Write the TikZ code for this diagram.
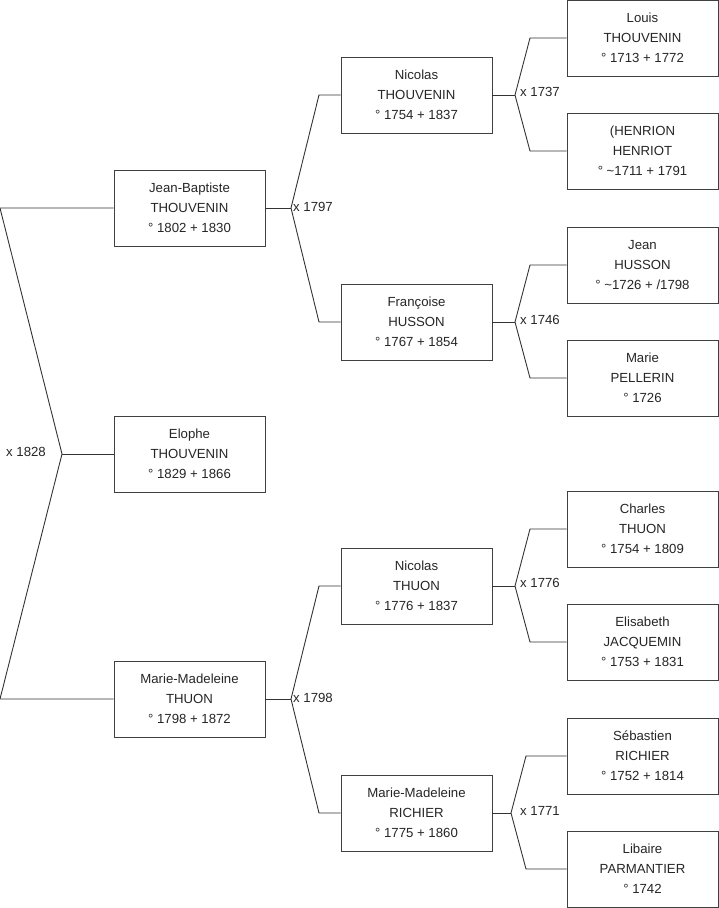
\documentclass[tikz,border=0pt]{standalone}
\usepackage{fontspec}
\setmainfont{Liberation Sans}
\begin{document}
\begin{tikzpicture}[x=1pt,y=-1pt,
  person/.style={draw=black!75,line width=0.9pt,fill=white,minimum width=151pt,minimum height=76pt,inner sep=0pt,align=center,font=\fontsize{13.2}{20}\selectfont,text=black!85},
  link/.style={draw=black!80,line width=0.9pt},
  lbl/.style={font=\fontsize{13.2}{14}\selectfont,inner sep=0pt,text=black!85}]
\useasboundingbox (0,0) rectangle (719,908);
% generation 1
\node[person] (jb) at (189.5,208) {Jean-Baptiste\\THOUVENIN\\° 1802 + 1830};
\node[person] (el) at (189.5,454) {Elophe\\THOUVENIN\\° 1829 + 1866};
\node[person] (mm) at (189.5,699) {Marie-Madeleine\\THUON\\° 1798 + 1872};
% generation 2
\node[person] (nt) at (416.5,95) {Nicolas\\THOUVENIN\\° 1754 + 1837};
\node[person] (fh) at (416.5,322) {Françoise\\HUSSON\\° 1767 + 1854};
\node[person] (nth) at (416.5,586) {Nicolas\\THUON\\° 1776 + 1837};
\node[person] (mr) at (416.5,813) {Marie-Madeleine\\RICHIER\\° 1775 + 1860};
% generation 3
\node[person] (lt) at (642.5,38) {Louis\\THOUVENIN\\° 1713 + 1772};
\node[person] (hh) at (642.5,151) {(HENRION\\HENRIOT\\° \textasciitilde1711 + 1791};
\node[person] (jh) at (642.5,265) {Jean\\HUSSON\\° \textasciitilde1726 + /1798};
\node[person] (mp) at (642.5,378) {Marie\\PELLERIN\\° 1726};
\node[person] (ct) at (642.5,529) {Charles\\THUON\\° 1754 + 1809};
\node[person] (ej) at (642.5,642) {Elisabeth\\JACQUEMIN\\° 1753 + 1831};
\node[person] (sr) at (642.5,756) {Sébastien\\RICHIER\\° 1752 + 1814};
\node[person] (lp) at (642.5,869) {Libaire\\PARMANTIER\\° 1742};
% fork coordinates
\coordinate (a1) at (0,208);
\coordinate (a2) at (0,699);
\coordinate (av) at (62,454);
\coordinate (b1) at (291,208);
\coordinate (b1u) at (319,95);
\coordinate (b1d) at (319,322);
\coordinate (b2) at (291,699);
\coordinate (b2u) at (319,586);
\coordinate (b2d) at (319,813);
\coordinate (c1) at (515,95);
\coordinate (c1u) at (530,38);
\coordinate (c1d) at (530,151);
\coordinate (c2) at (515,322);
\coordinate (c2u) at (530,265);
\coordinate (c2d) at (530,378);
\coordinate (c3) at (515,586);
\coordinate (c3u) at (530,529);
\coordinate (c3d) at (530,642);
\coordinate (c4) at (511,813);
\coordinate (c4u) at (526,756);
\coordinate (c4d) at (526,869);
% connectors
\draw[link] (jb.west) -- (a1) -- (av) -- (a2) -- (mm.west);
\draw[link] (av) -- (el.west);
\draw[link] (jb.east) -- (b1);
\draw[link] (nt.west) -- (b1u) -- (b1) -- (b1d) -- (fh.west);
\draw[link] (mm.east) -- (b2);
\draw[link] (nth.west) -- (b2u) -- (b2) -- (b2d) -- (mr.west);
\draw[link] (nt.east) -- (c1);
\draw[link] (lt.west) -- (c1u) -- (c1) -- (c1d) -- (hh.west);
\draw[link] (fh.east) -- (c2);
\draw[link] (jh.west) -- (c2u) -- (c2) -- (c2d) -- (mp.west);
\draw[link] (nth.east) -- (c3);
\draw[link] (ct.west) -- (c3u) -- (c3) -- (c3d) -- (ej.west);
\draw[link] (mr.east) -- (c4);
\draw[link] (sr.west) -- (c4u) -- (c4) -- (c4d) -- (lp.west);
% marriage labels
\node[lbl,anchor=east] (m1) at (46,452) {x 1828};
\node[lbl,anchor=west] (m2) at (293,207) {x 1797};
\node[lbl,anchor=west] (m3) at (293,698) {x 1798};
\node[lbl,anchor=west] (m4) at (520,92) {x 1737};
\node[lbl,anchor=west] (m5) at (520,320) {x 1746};
\node[lbl,anchor=west] (m6) at (520,583) {x 1776};
\node[lbl,anchor=west] (m7) at (520,811) {x 1771};
\end{tikzpicture}
\end{document}
